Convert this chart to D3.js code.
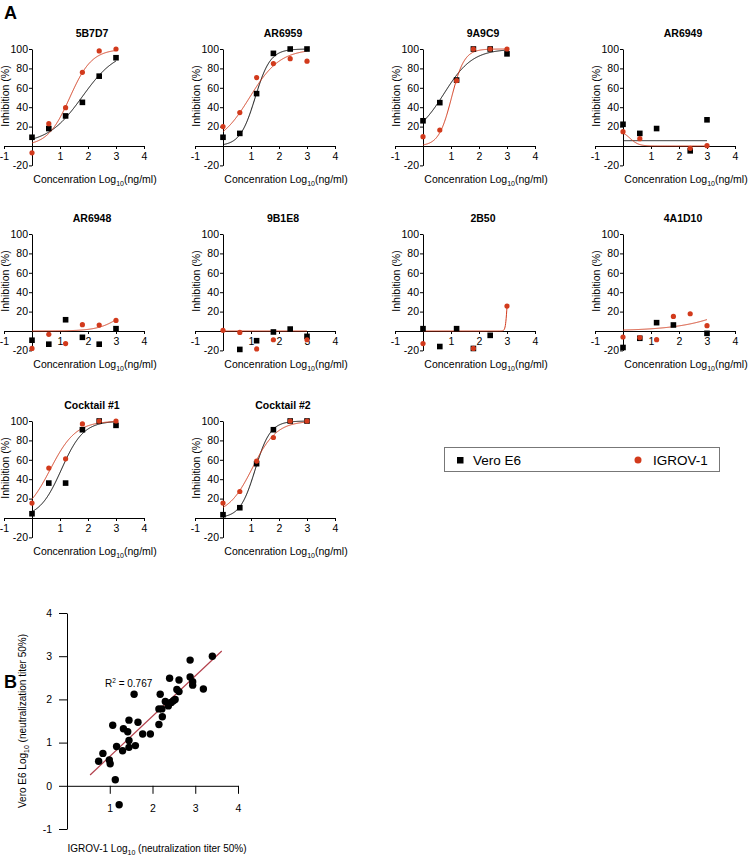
<!DOCTYPE html>
<html>
<head>
<meta charset="utf-8">
<script src="https://cdn.jsdelivr.net/npm/d3@7"></script>
<style>
  body { margin: 0; background: #fff; }
  svg { font-family: "Liberation Sans", Arial, sans-serif; }
  .axis path, .axis line { stroke: #000; stroke-width: 1; }
  .axis text { font-size: 10.5px; fill: #000; font-family: "Liberation Sans", Arial, sans-serif; }
</style>
</head>
<body>
<svg id="chart"></svg>
<script>
// Panel A : dose-response of each antibody, log10 concentration (ng/ml)
const panelNames = ["5B7D7", "AR6959", "9A9C9", "AR6949", "AR6948", "9B1E8", "2B50", "4A1D10", "Cocktail #1", "Cocktail #2"];
const doses = [0, 0.6, 1.2, 1.8, 2.4, 3];

// inhibition (%) measured on Vero E6 cells (null = not visible)
const veroValues = [
  [9, 18, 31, 45, 72, 91],
  [9, 13, 54, 95.5, 100, 100],
  [26, 44.7, 68, 100, 100, 95],
  [22.4, 13, 18, null, -5, 27],
  [-9.5, -13.6, 11.6, -6.5, -13.6, 2.4],
  [null, -19, -10, -1, 2, -5.5],
  [2.4, -16, 2.4, -18, -4.5, null],
  [-17, -7.5, 8.6, 6.2, null, -2.4],
  [4.4, 36, 36, 91, 100, 95.5],
  [3.4, 10.6, 56, 91, 100, 100]
];

// inhibition (%) measured on IGROV-1 cells
const igrovValues = [
  [-7, 23, 39.5, 76, 98, 100],
  [20, 34.5, 70.5, 85, 90, 87.5],
  [9.6, 16.5, 67.4, 100, 100, 100],
  [14.8, 7.6, null, null, -2.4, 0.3],
  [-18, -3.4, -13, 6.5, 6.1, 10.9],
  [0.7, -1.5, -18.5, -9, null, -9],
  [-13, null, null, -18, null, 25.7],
  [-6.2, -6.8, -8.9, 15, 17.8, 5.5],
  [15.4, 51.5, 61, 97, 100, 100],
  [15.4, 27.3, 58.7, 83, 100, 100]
];

// fitted 4PL curves : [bottom, top, logEC50, hill]
const veroFits = [
  [2, 100, 1.8, 0.7],
  [0, 100, 1.15, 1.6],
  [8, 100, 0.75, 0.85],
  [5.5, 5.5, 1.5, 1],
  null,
  null,
  null,
  null,
  [0, 100, 1.05, 1.1],
  [0, 100, 1.15, 1.6]
];
const igrovFits = [
  [0, 100, 1.35, 1.1],
  [0, 100, 0.95, 0.8],
  [0, 100, 1.02, 1.9],
  [0, 16, 0.25, -2.8],
  [0, 35, 3.3, 1.0],
  [0, 0, 1, 1],
  [0, 50, 3.0, 15],
  [0, 100, 5.3, 0.38],
  [0, 100, 0.65, 0.95],
  [3, 100, 1.05, 1.0]
];

const xTicksA = [-1, 1, 2, 3, 4];
const yTicksA = [-20, 20, 40, 60, 80, 100];

// Panel B : Log10 neutralization titer 50%
const igrovTiters = [3.40, 2.88, 2.88, 2.40, 2.62, 2.94, 2.94, 3.19, 2.57, 2.62, 1.57, 2.18, 2.30, 2.40,
  2.49, 2.53, 2.44, 2.37, 2.15, 2.22, 2.15, 2.23, 1.45, 1.66, 1.07, 1.32, 1.42, 1.77, 1.95, 1.45,
  1.16, 1.45, 1.60, 1.30, 0.84, 0.74, 0.99, 1.01, 1.13, 1.22];
const veroTiters = [3.00, 2.91, 2.52, 2.49, 2.45, 2.41, 2.33, 2.24, 2.23, 2.18, 2.12, 2.12, 1.95, 1.91,
  1.97, 2.00, 1.93, 1.85, 1.78, 1.78, 1.42, 1.60, 1.52, 1.47, 1.40, 1.32, 1.25, 1.20, 1.20, 1.05,
  0.91, 0.89, 0.93, 0.81, 0.75, 0.57, 0.60, 0.51, 0.14, -0.44];
const fitRange = [0.54, 3.62];
const fitSlope = 0.932;
const fitIntercept = -0.253;
const rSquared = "0.767";

const xTicksB = [1, 2, 3, 4];
const yTicksB = [-1, 0, 1, 2, 3, 4];


const width = 750;
const height = 856;
const red = "#d23a1c";

const svg = d3.select("#chart")
  .attr("width", width)
  .attr("height", height);

// panel placement (y axis position, zero line position)
const colX = [32, 223, 423, 623];
const rowY = [146, 331, 518];

// minus sign as plain hyphen, like the original figure
const tickText = (d) => d < 0 ? "-" + Math.abs(d) : String(d);

function logistic(p, x) {
  const [b, t, ec, h] = p;
  return b + (t - b) / (1 + Math.pow(10, (ec - x) * h));
}

function addLog10(text, before, after, subSize) {
  text.append("tspan").text(before);
  text.append("tspan").attr("font-size", subSize).attr("dy", 3).text("10");
  text.append("tspan").attr("dy", -3).text(after);
}

svg.append("text")
  .attr("x", 4).attr("y", 19)
  .attr("font-size", 18).attr("font-weight", "bold")
  .text("A");

panelNames.forEach((name, i) => drawPanel(name, i));

function drawPanel(name, i) {
  const X0 = colX[i % 4];
  const Y0 = rowY[Math.floor(i / 4)];

  const x = d3.scaleLinear().domain([-1, 4]).range([X0 - 28, X0 + 112]);
  const y = d3.scaleLinear().domain([-20, 100]).range([Y0 + 19.4, Y0 - 97]);

  const g = svg.append("g");

  g.append("g")
    .attr("class", "axis")
    .attr("transform", `translate(0, ${y(0)})`)
    .call(d3.axisBottom(x).tickValues(xTicksA).tickSize(3).tickPadding(4).tickSizeOuter(0).tickFormat(tickText));

  g.append("g")
    .attr("class", "axis")
    .attr("transform", `translate(${x(0)}, 0)`)
    .call(d3.axisLeft(y).tickValues(yTicksA).tickSize(3).tickPadding(1).tickSizeOuter(0).tickFormat(tickText));

  // title
  g.append("text")
    .attr("x", X0 + 60).attr("y", Y0 - 109)
    .attr("text-anchor", "middle")
    .attr("font-size", 10.5).attr("font-weight", "bold")
    .text(name);

  // axis labels
  const xl = g.append("text")
    .attr("x", X0 + 63).attr("y", Y0 + 37)
    .attr("text-anchor", "middle")
    .attr("font-size", 10.5);
  addLog10(xl, "Concenration Log", "(ng/ml)", 7);

  g.append("text")
    .attr("transform", `translate(${X0 - 23}, ${Y0 - 50}) rotate(-90)`)
    .attr("text-anchor", "middle")
    .attr("font-size", 10.5)
    .text("Inhibition (%)");

  // fitted curves
  const samples = d3.range(0, 3.0001, 0.01);
  [[veroFits[i], "#000"], [igrovFits[i], red]].forEach(([p, col]) => {
    if (!p) return;
    g.append("path")
      .attr("d", d3.line().x(d => x(d)).y(d => y(logistic(p, d)))(samples))
      .attr("fill", "none")
      .attr("stroke", col)
      .attr("stroke-width", 1);
  });

  // Vero E6 : squares
  g.selectAll(".vero")
    .data(doses.map((d, j) => [d, veroValues[i][j]]).filter(d => d[1] !== null))
    .enter().append("rect")
    .attr("x", d => x(d[0]) - 2.8)
    .attr("y", d => y(d[1]) - 2.8)
    .attr("width", 5.6)
    .attr("height", 5.6)
    .attr("fill", "#000");

  // IGROV-1 : circles
  g.selectAll(".igrov")
    .data(doses.map((d, j) => [d, igrovValues[i][j]]).filter(d => d[1] !== null))
    .enter().append("circle")
    .attr("cx", d => x(d[0]))
    .attr("cy", d => y(d[1]))
    .attr("r", 2.6)
    .attr("fill", red);
}

// Legend
const legend = svg.append("g");
legend.append("rect")
  .attr("x", 444.5).attr("y", 447.5)
  .attr("width", 275).attr("height", 24)
  .attr("fill", "none").attr("stroke", "#777").attr("stroke-width", 1);
legend.append("rect")
  .attr("x", 457).attr("y", 457).attr("width", 6.5).attr("height", 6.5).attr("fill", "#000");
legend.append("text")
  .attr("x", 473).attr("y", 464.5).attr("font-size", 13.5).text("Vero E6");
legend.append("circle")
  .attr("cx", 638).attr("cy", 460).attr("r", 3.5).attr("fill", red);
legend.append("text")
  .attr("x", 653).attr("y", 464.5).attr("font-size", 13.5).text("IGROV-1");

// Panel B
svg.append("text")
  .attr("x", 4).attr("y", 688)
  .attr("font-size", 18).attr("font-weight", "bold")
  .text("B");

const xb = d3.scaleLinear().domain([0, 4]).range([67, 238]);
const yb = d3.scaleLinear().domain([-1, 4]).range([829, 613]);

svg.append("g")
  .attr("class", "axis")
  .attr("transform", `translate(0, ${yb(0)})`)
  .call(d3.axisBottom(xb).tickValues(xTicksB).tickSize(8).tickPadding(11).tickSizeOuter(0).tickFormat(tickText));

svg.append("g")
  .attr("class", "axis")
  .attr("transform", `translate(${xb(0)}, 0)`)
  .call(d3.axisLeft(yb).tickValues(yTicksB).tickSize(8).tickPadding(7).tickSizeOuter(0).tickFormat(tickText));

svg.append("line")
  .attr("x1", xb(fitRange[0])).attr("y1", yb(fitIntercept + fitSlope * fitRange[0]))
  .attr("x2", xb(fitRange[1])).attr("y2", yb(fitIntercept + fitSlope * fitRange[1]))
  .attr("stroke", "#b3404c").attr("stroke-width", 1.2);

svg.selectAll(".titer")
  .data(igrovTiters.map((d, j) => [d, veroTiters[j]]))
  .enter().append("circle")
  .attr("cx", d => xb(d[0]))
  .attr("cy", d => yb(d[1]))
  .attr("r", 3.7)
  .attr("fill", "#000");

const r2 = svg.append("text")
  .attr("x", 105).attr("y", 687)
  .attr("font-size", 10);
r2.append("tspan").text("R");
r2.append("tspan").attr("font-size", 6.5).attr("dy", -4).text("2");
r2.append("tspan").attr("dy", 4).text(" = " + rSquared);

const bxl = svg.append("text")
  .attr("x", 157).attr("y", 852)
  .attr("text-anchor", "middle")
  .attr("font-size", 10);
addLog10(bxl, "IGROV-1 Log", " (neutralization titer 50%)", 7);

const byl = svg.append("text")
  .attr("transform", `translate(26, ${(yb(-1) + yb(4)) / 2}) rotate(-90)`)
  .attr("text-anchor", "middle")
  .attr("font-size", 10);
addLog10(byl, "Vero E6 Log", " (neutralization titer 50%)", 7);
</script>
</body>
</html>
